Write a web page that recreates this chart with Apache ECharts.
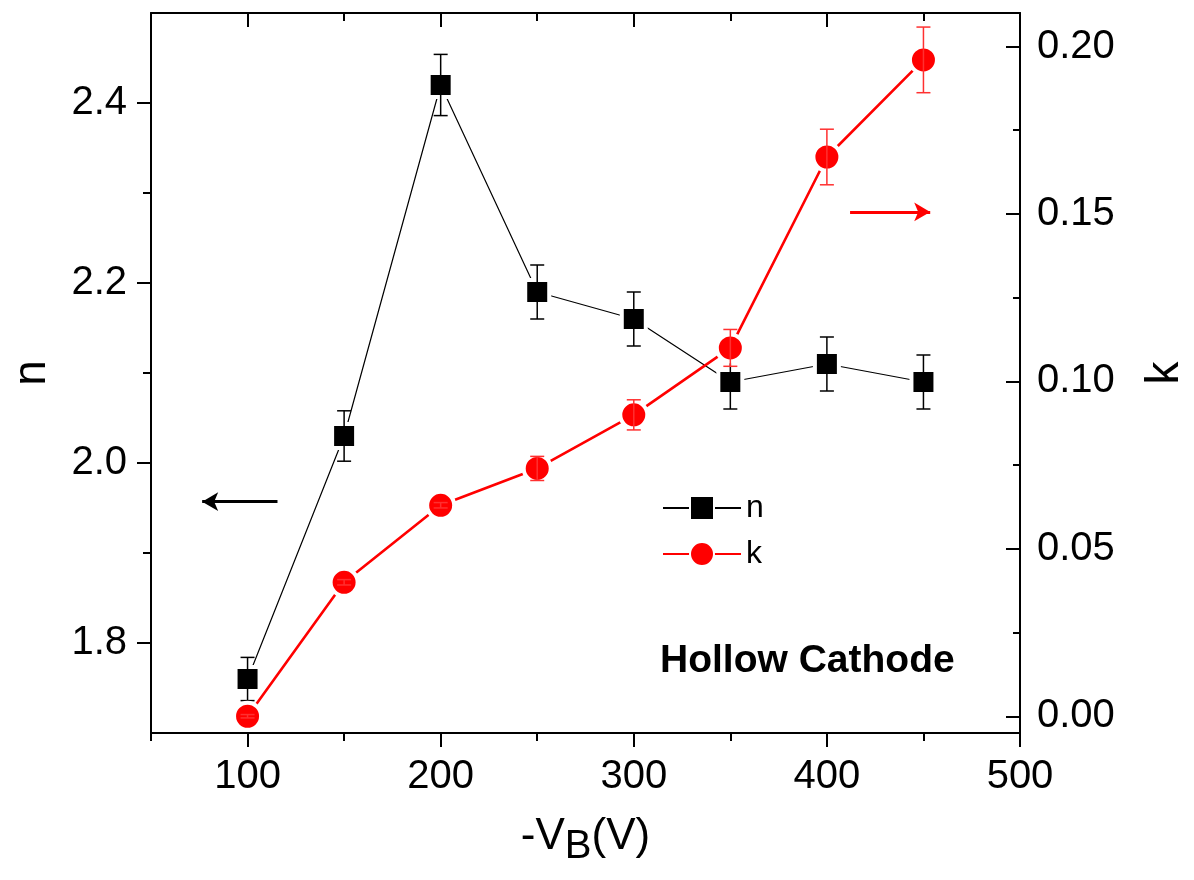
<!DOCTYPE html>
<html>
<head>
<meta charset="utf-8">
<script src="https://cdn.jsdelivr.net/npm/echarts@6/dist/echarts.min.js"></script>
<style>
html,body{margin:0;padding:0;background:#fff;}
#chart{width:1194px;height:880px;}
</style>
</head>
<body>
<div id="chart"></div>
<script>
// ---- data ----
var xVals = [100, 150, 200, 250, 300, 350, 400, 450];
var nVals = [1.76, 2.03, 2.42, 2.19, 2.16, 2.09, 2.11, 2.09];
var nErr  = [0.024, 0.028, 0.034, 0.030, 0.030, 0.030, 0.030, 0.030];
var kVals = [0.000, 0.040, 0.063, 0.074, 0.090, 0.110, 0.167, 0.196];
var kErr  = [0.0005, 0.0008, 0.0008, 0.0036, 0.0045, 0.0055, 0.0083, 0.0098];
var xMajorTicks = [100, 200, 300, 400, 500];
var xMinorTicks = [50, 150, 250, 350, 450];
var nMajorTicks = [1.8, 2.0, 2.2, 2.4];
var nMinorTicks = [1.9, 2.1, 2.3];
var kMajorTicks = [0.00, 0.05, 0.10, 0.15, 0.20];
var kMinorTicks = [0.025, 0.075, 0.125, 0.175];
var arrowN = {from: [115.5, 1.957], to: [76.5, 1.957]};
var arrowK = {from: [412, 0.1506], to: [453.5, 0.1506]};

var FONT = '"Liberation Sans", Arial, Helvetica, sans-serif';

var nPairs = xVals.map(function (x, i) { return [x, nVals[i]]; });
var kPairs = xVals.map(function (x, i) { return [x, kVals[i]]; });
var nErrData = xVals.map(function (x, i) { return [x, nVals[i] - nErr[i], nVals[i] + nErr[i]]; });
var kErrData = xVals.map(function (x, i) { return [x, kVals[i] - kErr[i], kVals[i] + kErr[i]]; });

function errRender(color, width, cap) {
  return function (params, api) {
    var x = api.value(0);
    var lo = api.coord([x, api.value(1)]);
    var hi = api.coord([x, api.value(2)]);
    var st = {stroke: color, lineWidth: width};
    return {
      type: 'group',
      children: [
        {type: 'line', shape: {x1: lo[0], y1: lo[1], x2: hi[0], y2: hi[1]}, style: st},
        {type: 'line', shape: {x1: lo[0] - cap, y1: lo[1], x2: lo[0] + cap, y2: lo[1]}, style: st},
        {type: 'line', shape: {x1: hi[0] - cap, y1: hi[1], x2: hi[0] + cap, y2: hi[1]}, style: st}
      ]
    };
  };
}

var axisLineStyle = {show: true, onZero: false, lineStyle: {color: '#000', width: 2}};
var hiddenLine = {show: false, onZero: false};

var chart = echarts.init(document.getElementById('chart'), null, {renderer: 'canvas'});
chart.setOption({
  animation: false,
  backgroundColor: '#fff',
  grid: {left: 151, right: 174, top: 13, bottom: 147, containLabel: false, outerBoundsMode: 'none'},
  legend: {
    left: 657, top: 487, orient: 'vertical',
    itemWidth: 78, itemHeight: 30, itemGap: 14,
    textStyle: {fontFamily: FONT, fontSize: 32, color: '#000', padding: [0, 0, 0, 0]},
    data: ['n', 'k']
  },
  xAxis: [
    {
      type: 'value', position: 'bottom', min: 50, max: 500,
      axisLine: axisLineStyle,
      axisTick: {show: true, inside: false, length: 14, lineStyle: {color: '#000', width: 2}, customValues: xMajorTicks},
      axisLabel: {show: true, margin: 24, fontFamily: FONT, fontSize: 40, color: '#000', customValues: xMajorTicks},
      splitLine: {show: false},
      name: '{a|-V}{b|B}{a|(V)}', nameLocation: 'middle', nameGap: 74,
      nameTextStyle: {
        rich: {
          a: {fontFamily: FONT, fontSize: 44, color: '#000', lineHeight: 60, verticalAlign: 'middle'},
          b: {fontFamily: FONT, fontSize: 40, color: '#000', lineHeight: 30, verticalAlign: 'bottom'}
        }
      }
    },
    {
      type: 'value', position: 'bottom', min: 50, max: 500,
      axisLine: hiddenLine,
      axisTick: {show: true, inside: false, length: 8, lineStyle: {color: '#000', width: 2}, customValues: xMinorTicks},
      axisLabel: {show: false}, splitLine: {show: false}
    },
    {
      type: 'value', position: 'top', min: 50, max: 500,
      axisLine: axisLineStyle,
      axisTick: {show: true, inside: true, length: 14, lineStyle: {color: '#000', width: 2}, customValues: xMajorTicks},
      axisLabel: {show: false}, splitLine: {show: false}
    },
    {
      type: 'value', position: 'top', min: 50, max: 500,
      axisLine: hiddenLine,
      axisTick: {show: true, inside: true, length: 8, lineStyle: {color: '#000', width: 2}, customValues: xMinorTicks},
      axisLabel: {show: false}, splitLine: {show: false}
    }
  ],
  yAxis: [
    {
      type: 'value', position: 'left', min: 1.7, max: 2.5,
      axisLine: axisLineStyle,
      axisTick: {show: true, inside: false, length: 14, lineStyle: {color: '#000', width: 2}, customValues: nMajorTicks},
      axisLabel: {show: true, margin: 24, fontFamily: FONT, fontSize: 40, color: '#000', customValues: nMajorTicks,
        formatter: function (v) { return v.toFixed(1); }},
      splitLine: {show: false},
      name: 'n', nameLocation: 'middle', nameGap: 96, nameRotate: 90,
      nameTextStyle: {fontFamily: FONT, fontSize: 46, color: '#000'}
    },
    {
      type: 'value', position: 'left', min: 1.7, max: 2.5,
      axisLine: hiddenLine,
      axisTick: {show: true, inside: false, length: 8, lineStyle: {color: '#000', width: 2}, customValues: nMinorTicks},
      axisLabel: {show: false}, splitLine: {show: false}
    },
    {
      type: 'value', position: 'right', min: -0.005, max: 0.21,
      axisLine: axisLineStyle,
      axisTick: {show: true, inside: true, length: 14, lineStyle: {color: '#000', width: 2}, customValues: kMajorTicks},
      axisLabel: {show: true, margin: 17, fontFamily: FONT, fontSize: 40, color: '#000', customValues: kMajorTicks,
        formatter: function (v) { return v.toFixed(2); }},
      splitLine: {show: false},
      name: 'k', nameLocation: 'middle', nameGap: 122, nameRotate: 90,
      nameTextStyle: {fontFamily: FONT, fontSize: 46, color: '#000'}
    },
    {
      type: 'value', position: 'right', min: -0.005, max: 0.21,
      axisLine: hiddenLine,
      axisTick: {show: true, inside: true, length: 7, lineStyle: {color: '#000', width: 2}, customValues: kMinorTicks},
      axisLabel: {show: false}, splitLine: {show: false}
    }
  ],
  graphic: [
    {
      type: 'text', left: 660, top: 642,
      style: {text: 'Hollow Cathode', fontFamily: FONT, fontWeight: 'bold', fontSize: 39, fill: '#000'}
    }
  ],
  series: [
    {
      name: 'n', type: 'line', xAxisIndex: 0, yAxisIndex: 0, data: nPairs,
      symbol: 'rect', symbolSize: 24, showSymbol: true,
      itemStyle: {color: '#000', borderColor: '#fff', borderWidth: 4}, lineStyle: {color: '#000', width: 1.2}, z: 3,
      markLine: {
        silent: true, symbol: ['none', 'arrow'], symbolSize: [14, 16], label: {show: false},
        lineStyle: {color: '#000', width: 3, type: 'solid'},
        data: [[{coord: arrowN.from}, {coord: arrowN.to}]]
      }
    },
    {
      name: 'nErr', type: 'custom', xAxisIndex: 0, yAxisIndex: 0, data: nErrData,
      renderItem: errRender('#000', 1.5, 7), z: 4, silent: true
    },
    {
      name: 'k', type: 'line', xAxisIndex: 0, yAxisIndex: 2, data: kPairs,
      symbol: 'circle', symbolSize: 27, showSymbol: true,
      itemStyle: {color: '#ff0000', borderColor: '#fff', borderWidth: 4}, lineStyle: {color: '#ff0000', width: 2.6}, z: 5,
      markLine: {
        silent: true, symbol: ['none', 'arrow'], symbolSize: [14, 16], label: {show: false},
        lineStyle: {color: '#ff0000', width: 3, type: 'solid'},
        data: [[{coord: arrowK.from}, {coord: arrowK.to}]]
      }
    },
    {
      name: 'kErr', type: 'custom', xAxisIndex: 0, yAxisIndex: 2, data: kErrData,
      renderItem: errRender('#ff3030', 1.5, 7), z: 6, silent: true
    }
  ]
});
</script>
</body>
</html>
